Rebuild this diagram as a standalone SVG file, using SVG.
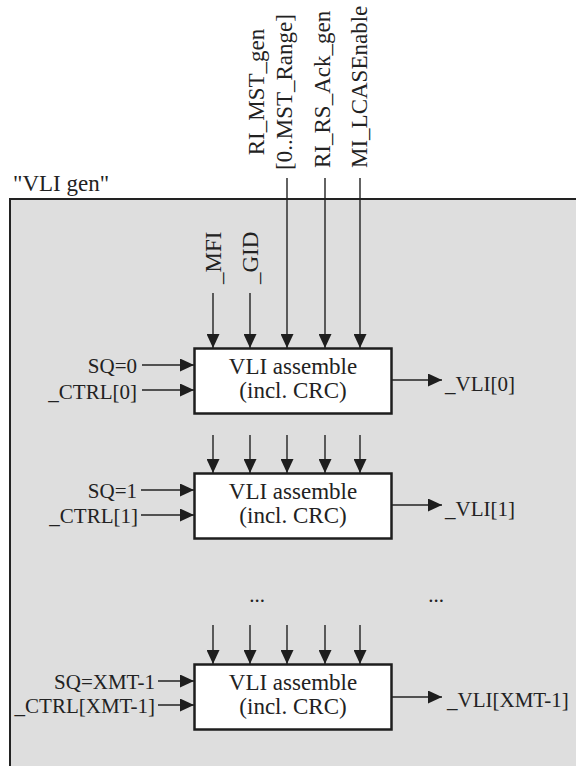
<svg xmlns="http://www.w3.org/2000/svg" width="576" height="766" viewBox="0 0 576 766">
<style>
text{font-family:"Liberation Serif",Tinos,"Times New Roman",Times,"DejaVu Serif",serif;fill:#222}
.lbl{font-size:21px}
.vl{font-size:23px}
.bt{font-size:23px;text-anchor:middle}
.blk{fill:#fff;stroke:#1e1e1e;stroke-width:2.5}
.c{stroke:#222;stroke-width:1.4;fill:none;marker-end:url(#ah)}
</style>
<defs>
<marker id="ah" viewBox="0 0 14 13" refX="14" refY="6.5" markerWidth="14" markerHeight="13" markerUnits="userSpaceOnUse" orient="auto">
<path d="M0,0 L14,6.5 L0,13 z" fill="#1e1e1e"/>
</marker>
</defs>
<rect width="576" height="766" fill="#fff"/>
<g id="vligen">
<rect x="10" y="199" width="620" height="620" fill="#dedede" stroke="#222" stroke-width="2"/>
<text x="13" y="191" font-size="23">"VLI gen"</text>
</g>
<g id="inputs-top">
<text class="vl" transform="translate(264,92) rotate(-90)" text-anchor="middle">RI_MST_gen</text>
<text class="vl" transform="translate(292,92) rotate(-90)" text-anchor="middle">[0..MST_Range]</text>
<text class="vl" transform="translate(330,168) rotate(-90)">RI_RS_Ack_gen</text>
<text class="vl" transform="translate(367,168) rotate(-90)">MI_LCASEnable</text>
<text class="vl" transform="translate(221,284) rotate(-90)">_MFI</text>
<text class="vl" transform="translate(258,284) rotate(-90)">_GID</text>
</g>
<g id="block0">
<rect class="blk" x="194.5" y="348.5" width="197" height="65"/>
<text class="bt" x="293" y="374">VLI assemble</text>
<text class="bt" x="293" y="398">(incl. CRC)</text>
<text class="lbl" x="137" y="373" text-anchor="end">SQ=0</text>
<text class="lbl" x="137" y="399" text-anchor="end">_CTRL[0]</text>
<text class="lbl" x="445" y="391">_VLI[0]</text>
</g>
<g id="block1">
<rect class="blk" x="194.5" y="473.5" width="197" height="65"/>
<text class="bt" x="293" y="499">VLI assemble</text>
<text class="bt" x="293" y="523">(incl. CRC)</text>
<text class="lbl" x="137" y="498" text-anchor="end">SQ=1</text>
<text class="lbl" x="138" y="523" text-anchor="end">_CTRL[1]</text>
<text class="lbl" x="445" y="516">_VLI[1]</text>
</g>
<g id="ellipsis">
<text class="lbl" x="257" y="602" text-anchor="middle">...</text>
<text class="lbl" x="436" y="602" text-anchor="middle">...</text>
</g>
<g id="block2">
<rect class="blk" x="194.5" y="664.5" width="197" height="65"/>
<text class="bt" x="293" y="690">VLI assemble</text>
<text class="bt" x="293" y="714">(incl. CRC)</text>
<text class="lbl" x="155" y="689" text-anchor="end">SQ=XMT-1</text>
<text class="lbl" x="155" y="713" text-anchor="end">_CTRL[XMT-1]</text>
<text class="lbl" x="447" y="707">_VLI[XMT-1]</text>
</g>
<g id="connectors">
<line class="c" x1="213" y1="293" x2="213" y2="348"/>
<line class="c" x1="250" y1="293" x2="250" y2="348"/>
<line class="c" x1="287" y1="178" x2="287" y2="348"/>
<line class="c" x1="325" y1="178" x2="325" y2="348"/>
<line class="c" x1="360" y1="178" x2="360" y2="348"/>
<line class="c" x1="142" y1="365" x2="194" y2="365"/>
<line class="c" x1="142" y1="390" x2="194" y2="390"/>
<line class="c" x1="392" y1="380" x2="442" y2="380"/>
<line class="c" x1="213" y1="435" x2="213" y2="473"/>
<line class="c" x1="250" y1="435" x2="250" y2="473"/>
<line class="c" x1="287" y1="435" x2="287" y2="473"/>
<line class="c" x1="325" y1="435" x2="325" y2="473"/>
<line class="c" x1="360" y1="435" x2="360" y2="473"/>
<line class="c" x1="141" y1="490" x2="194" y2="490"/>
<line class="c" x1="141" y1="515" x2="194" y2="515"/>
<line class="c" x1="392" y1="505" x2="442" y2="505"/>
<line class="c" x1="213" y1="625" x2="213" y2="664"/>
<line class="c" x1="250" y1="625" x2="250" y2="664"/>
<line class="c" x1="287" y1="625" x2="287" y2="664"/>
<line class="c" x1="325" y1="625" x2="325" y2="664"/>
<line class="c" x1="360" y1="625" x2="360" y2="664"/>
<line class="c" x1="158" y1="681" x2="194" y2="681"/>
<line class="c" x1="158" y1="705" x2="194" y2="705"/>
<line class="c" x1="392" y1="697" x2="442" y2="697"/>
</g>
</svg>
